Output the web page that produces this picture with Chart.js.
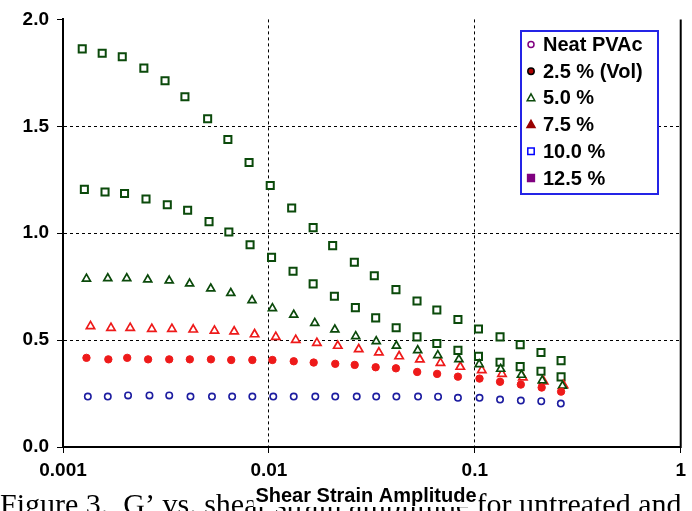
<!DOCTYPE html>
<html>
<head>
<meta charset="utf-8">
<script src="https://cdn.jsdelivr.net/npm/chart.js@4.4.1/dist/chart.umd.min.js"></script>
<style>
  html, body { margin: 0; padding: 0; background: #fff; }
  #wrap { width: 692px; height: 511px; }
</style>
</head>
<body>
<div id="wrap"><canvas id="gChart" width="692" height="511"></canvas></div>
<script>
// series names, in legend order
var seriesNames = ['Neat PVAc', '2.5 % (Vol)', '5.0 %', '7.5 %', '10.0 %', '12.5 %'];
var xTicks = [0.001, 0.01, 0.1, 1];
var yTicks = [0, 0.5, 1, 1.5, 2];
var xTitle = 'Shear Strain Amplitude';
var caption = 'Figure 3.  G\u2019 vs. shear strain amplitude for untreated and';

// strain amplitude (x) and G' (y)
var strainNeat = [0.00132,0.00165,0.00207,0.00263,0.00328,0.00416,0.00529,0.00663,0.00831,0.0105,0.0132,0.0168,0.0210,0.0267,0.0332,0.0416,0.0530,0.0663,0.0828,0.1054,0.1326,0.1673,0.2102,0.2616];
var gNeat = [0.236,0.236,0.241,0.241,0.241,0.236,0.236,0.236,0.236,0.236,0.236,0.236,0.236,0.236,0.236,0.236,0.236,0.235,0.230,0.230,0.222,0.217,0.214,0.203];

var strain25 = [0.00130,0.00166,0.00205,0.00259,0.00328,0.00413,0.00523,0.00656,0.00831,0.0104,0.0132,0.0165,0.0210,0.0261,0.0330,0.0414,0.0525,0.0656,0.0828,0.1054,0.1326,0.1673,0.2112,0.2624];
var g25 = [0.417,0.410,0.417,0.410,0.410,0.410,0.410,0.407,0.407,0.407,0.401,0.395,0.389,0.384,0.373,0.368,0.351,0.342,0.329,0.320,0.305,0.292,0.278,0.259];

var strain50 = [0.00130,0.00165,0.00204,0.00258,0.00328,0.00412,0.00522,0.00653,0.00828,0.0104,0.0132,0.0167,0.0209,0.0264,0.0332,0.0416,0.0528,0.0661,0.0837,0.1050,0.1335,0.1684,0.2126,0.2666];
var g50 = [0.787,0.789,0.789,0.783,0.778,0.764,0.741,0.720,0.686,0.649,0.618,0.580,0.549,0.518,0.494,0.473,0.452,0.429,0.410,0.387,0.365,0.337,0.311,0.286];

var strain75 = [0.00136,0.00171,0.00212,0.00270,0.00338,0.00429,0.00544,0.00678,0.00852,0.0108,0.0135,0.0171,0.0216,0.0273,0.0342,0.0429,0.0541,0.0681,0.0850,0.1081,0.1355,0.1711,0.2160,0.2696];
var g75 = [0.565,0.557,0.557,0.552,0.552,0.549,0.544,0.540,0.527,0.515,0.501,0.487,0.473,0.457,0.442,0.424,0.409,0.393,0.375,0.359,0.342,0.325,0.306,0.289];

var strain100 = [0.00127,0.00160,0.00199,0.00253,0.00321,0.00403,0.00512,0.00639,0.0081,0.0103,0.0131,0.0164,0.0208,0.0263,0.0330,0.0415,0.0524,0.0654,0.0828,0.1042,0.1326,0.1661,0.2096,0.2624];
var g100 = [1.205,1.193,1.186,1.160,1.133,1.107,1.054,1.006,0.946,0.887,0.822,0.763,0.705,0.652,0.604,0.558,0.515,0.484,0.452,0.424,0.396,0.376,0.354,0.328];

var strain125 = [0.00124,0.00155,0.00194,0.00247,0.00313,0.00391,0.00504,0.00632,0.00801,0.01015,0.0129,0.0164,0.0204,0.0260,0.0325,0.0414,0.0524,0.0654,0.0828,0.1042,0.1326,0.1661,0.2096,0.2624];
var g125 = [1.862,1.842,1.825,1.772,1.713,1.638,1.535,1.438,1.331,1.223,1.118,1.026,0.942,0.864,0.801,0.736,0.683,0.641,0.596,0.552,0.515,0.479,0.442,0.404];

function pairs(xs, ys) {
    return xs.map(function (x, i) { return { x: x, y: ys[i] }; });
}

var darkGreen = '#0b4a0b';
var red = '#ee1a1a';

// markers as drawn in the plot
var plotStyles = [
    { pointStyle: 'circle', pointRadius: 3.2, pointBorderWidth: 1.6, borderColor: '#1c1ca0', backgroundColor: '#ffffff' },
    { pointStyle: 'circle', pointRadius: 3.7, pointBorderWidth: 1, borderColor: red, backgroundColor: red },
    { pointStyle: 'triangle', pointRadius: 4.6, pointBorderWidth: 1.7, borderColor: darkGreen, backgroundColor: '#ffffff' },
    { pointStyle: 'triangle', pointRadius: 4.8, pointBorderWidth: 1.7, borderColor: red, backgroundColor: '#ffffff' },
    { pointStyle: 'rect', pointRadius: 5, pointBorderWidth: 2, borderColor: darkGreen, backgroundColor: '#ffffff' },
    { pointStyle: 'rect', pointRadius: 5, pointBorderWidth: 2, borderColor: darkGreen, backgroundColor: '#ffffff' }
];

// markers as drawn in the legend box (they differ from the plot)
var legendStyles = [
    { shape: 'circle', size: 3, stroke: '#800080', fill: '#ffffff' },
    { shape: 'circle', size: 3.2, stroke: '#000000', fill: '#b00000' },
    { shape: 'triangle', size: 4, stroke: darkGreen, fill: '#ffffff' },
    { shape: 'triangle', size: 4.2, stroke: '#990000', fill: '#990000' },
    { shape: 'square', size: 3.2, stroke: '#0000ff', fill: '#ffffff' },
    { shape: 'square', size: 3.4, stroke: '#800080', fill: '#800080' }
];

var seriesData = [
    pairs(strainNeat, gNeat),
    pairs(strain25, g25),
    pairs(strain50, g50),
    pairs(strain75, g75),
    pairs(strain100, g100),
    pairs(strain125, g125)
];

var datasets = seriesNames.map(function (name, i) {
    var s = plotStyles[i];
    return {
        label: name,
        data: seriesData[i],
        showLine: false,
        pointStyle: s.pointStyle,
        pointRadius: s.pointRadius,
        pointHoverRadius: s.pointRadius,
        pointBorderWidth: s.pointBorderWidth,
        pointBorderColor: s.borderColor,
        pointBackgroundColor: s.backgroundColor,
        borderColor: s.borderColor,
        backgroundColor: s.backgroundColor
    };
});

function drawMarker(ctx, st, x, y) {
    ctx.save();
    ctx.fillStyle = st.fill;
    ctx.strokeStyle = st.stroke;
    ctx.lineWidth = 1.5;
    ctx.beginPath();
    if (st.shape === 'circle') {
        ctx.arc(x, y, st.size, 0, Math.PI * 2);
    } else if (st.shape === 'triangle') {
        ctx.moveTo(x, y - st.size);
        ctx.lineTo(x + st.size * 0.95, y + st.size * 0.7);
        ctx.lineTo(x - st.size * 0.95, y + st.size * 0.7);
        ctx.closePath();
    } else {
        ctx.rect(x - st.size, y - st.size, st.size * 2, st.size * 2);
    }
    ctx.fill();
    ctx.stroke();
    ctx.restore();
}

var extras = {
    id: 'extras',
    afterDraw: function (chart) {
        var ctx = chart.ctx;
        var area = chart.chartArea;
        ctx.save();

        // right frame line
        ctx.strokeStyle = '#000';
        ctx.lineWidth = 2;
        ctx.beginPath();
        ctx.moveTo(area.right, area.top);
        ctx.lineTo(area.right, area.bottom + 1);
        ctx.stroke();

        // legend box
        var bx = 521, by = 31, bw = 137, bh = 163;
        ctx.fillStyle = '#fff';
        ctx.fillRect(bx, by, bw, bh);
        ctx.strokeStyle = '#2424e6';
        ctx.lineWidth = 2;
        ctx.strokeRect(bx, by, bw, bh);
        ctx.font = 'bold 20px "Liberation Sans", Arial, sans-serif';
        ctx.textBaseline = 'middle';
        ctx.textAlign = 'left';
        seriesNames.forEach(function (name, i) {
            var cy = 44.5 + i * 26.7;
            drawMarker(ctx, legendStyles[i], 531, cy);
            ctx.fillStyle = '#000';
            ctx.fillText(name, 543, cy + 1);
        });

        // caption line of the page, cut by the bottom edge
        ctx.font = '30px "Liberation Serif", "Times New Roman", serif';
        ctx.textBaseline = 'alphabetic';
        ctx.fillStyle = '#000';
        ctx.fillText(caption, 0, 514);

        // x axis title
        ctx.font = 'bold 20px "Liberation Sans", Arial, sans-serif';
        var tw = ctx.measureText(xTitle).width;
        var tx = 366;
        ctx.fillStyle = '#fff';
        ctx.fillRect(tx - tw / 2 - 2, 486, tw + 4, 21);
        ctx.fillStyle = '#000';
        ctx.textAlign = 'center';
        ctx.textBaseline = 'middle';
        ctx.fillText(xTitle, tx, 496);
        ctx.restore();
    }
};

var tickFont = { family: '"Liberation Sans", Arial, sans-serif', size: 19, weight: 'bold' };

new Chart(document.getElementById('gChart').getContext('2d'), {
    type: 'scatter',
    data: { datasets: datasets },
    options: {
        responsive: false,
        animation: false,
        devicePixelRatio: 1,
        layout: { padding: { left: 0, right: 5, top: 18, bottom: 0 } },
        plugins: {
            legend: { display: false },
            tooltip: { enabled: false }
        },
        scales: {
            x: {
                type: 'logarithmic',
                min: 0.001,
                max: 1,
                afterBuildTicks: function (scale) {
                    scale.ticks = xTicks.map(function (v) { return { value: v, major: true }; });
                },
                afterFit: function (scale) { scale.height = 64; },
                ticks: {
                    autoSkip: false,
                    maxRotation: 0,
                    padding: 6,
                    color: '#000',
                    font: tickFont,
                    callback: function (v) { return String(v); }
                },
                grid: {
                    color: function (c) {
                        return (c.index === 0 || c.index === xTicks.length - 1) ? 'rgba(0,0,0,0)' : '#000';
                    },
                    lineWidth: 1,
                    tickColor: '#000',
                    tickLength: 6,
                    tickWidth: 1
                },
                border: { display: true, color: '#000', width: 2, dash: [3, 3] }
            },
            y: {
                min: 0,
                max: 2,
                afterBuildTicks: function (scale) {
                    scale.ticks = yTicks.map(function (v) { return { value: v }; });
                },
                afterFit: function (scale) { scale.width = 63; },
                ticks: {
                    padding: 8,
                    color: '#000',
                    font: tickFont,
                    callback: function (v) { return Number(v).toFixed(1); }
                },
                grid: {
                    color: function (c) {
                        return (c.index === 0 || c.index === yTicks.length - 1) ? 'rgba(0,0,0,0)' : '#000';
                    },
                    lineWidth: 1,
                    tickColor: '#000',
                    tickLength: 6,
                    tickWidth: 1
                },
                border: { display: true, color: '#000', width: 2, dash: [3, 3] }
            }
        }
    },
    plugins: [extras]
});
</script>
</body>
</html>
